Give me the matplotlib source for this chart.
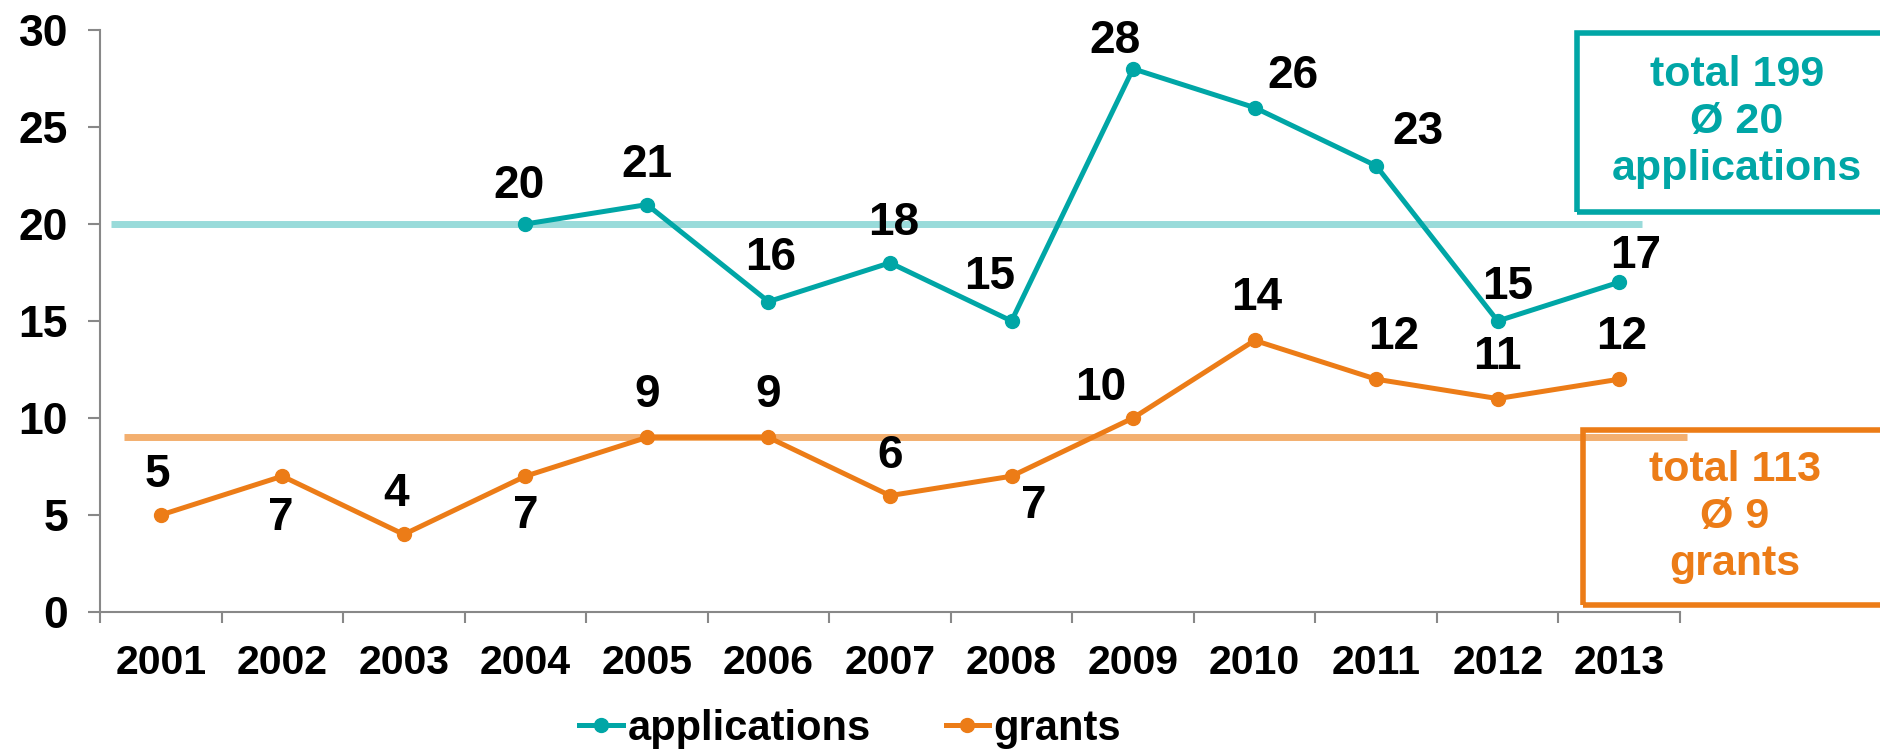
import matplotlib.pyplot as plt
from matplotlib.patches import Rectangle
import numpy as np

plt.rcParams['font.family'] = ['Liberation Sans', 'DejaVu Sans']
plt.rcParams['font.weight'] = 'bold'

years = ['2001', '2002', '2003', '2004', '2005', '2006', '2007',
         '2008', '2009', '2010', '2011', '2012', '2013']
applications = [np.nan, np.nan, np.nan, 20, 21, 16, 18, 15, 28, 26, 23, 15, 17]
grants = [5, 7, 4, 7, 9, 9, 6, 7, 10, 14, 12, 11, 12]
avg_applications = 20
avg_grants = 9
box_applications = 'total 199\nØ 20\napplications'
box_grants = 'total 113\nØ 9\ngrants'

teal = '#00A6A6'
teal_light = '#99DBDA'
orange = '#EC7C17'
orange_light = '#F3AF6F'
axis_grey = '#888888'

# label offsets in pixels (dx, dy) from each point
app_off = [None, None, None, (-6, 38), (0, 40), (2, 44), (4, 40), (-22, 44),
           (-18, 28), (38, 32), (42, 34), (10, 34), (16, 26)]
grant_off = [(-3, 40), (-2, -42), (-8, 40), (0, -40), (0, 42), (0, 42), (0, 40),
             (22, -30), (-32, 30), (2, 42), (18, 42), (0, 42), (2, 42)]

fig = plt.figure(figsize=(18.81, 7.53), dpi=100)
ax = fig.add_axes([100/1881, 1 - 612/753, 1580/1881, (612 - 30)/753])

x = np.arange(len(years))

# average lines
ax.plot([-0.41, 12.19], [avg_applications] * 2, color=teal_light, lw=5, zorder=1,
        solid_capstyle='butt')
ax.plot([-0.30, 12.56], [avg_grants] * 2, color=orange_light, lw=5, zorder=1,
        solid_capstyle='butt', clip_on=False)

ax.plot(x, applications, color=teal, lw=3.6, marker='o', ms=10, zorder=3,
        label='applications')
ax.plot(x, grants, color=orange, lw=3.6, marker='o', ms=10, zorder=3,
        label='grants')

for i in range(len(years)):
    if app_off[i] is not None:
        ax.annotate(str(int(applications[i])), (x[i], applications[i]),
                    xytext=app_off[i], textcoords='offset pixels',
                    ha='center', va='center', fontsize=33, fontweight='bold')
    ax.annotate(str(grants[i]), (x[i], grants[i]), xytext=grant_off[i],
                textcoords='offset pixels', ha='center', va='center',
                fontsize=33, fontweight='bold')

ax.set_xlim(-0.5, 12.5)
ax.set_ylim(0, 30)
ax.set_yticks([0, 5, 10, 15, 20, 25, 30])
ax.set_xticks(np.arange(-0.5, 13, 1))
ax.set_xticklabels([])
ax.set_xticks(x, minor=True)
ax.set_xticklabels(years, minor=True)
ax.tick_params(axis='x', which='major', length=8, width=1.5, color=axis_grey,
               direction='out')
ax.tick_params(axis='x', which='minor', length=0, pad=23, labelsize=29.5)
ax.tick_params(axis='y', length=9, width=1.5, color=axis_grey, pad=14,
               labelsize=32)
for lab in ax.get_xticklabels(minor=True) + ax.get_yticklabels():
    lab.set_fontweight('bold')

for s in ['top', 'right']:
    ax.spines[s].set_visible(False)
for s in ['left', 'bottom']:
    ax.spines[s].set_color(axis_grey)
    ax.spines[s].set_linewidth(1.5)
ax.spines['left'].set_bounds(0, 30)

# total / average boxes
fig.patches.append(Rectangle((1577/1881, 1 - 212/753), 0.2, (212 - 33)/753,
                             transform=fig.transFigure, fill=False,
                             edgecolor=teal, lw=4))
fig.text(1737/1881, 1 - 122/753, box_applications, color=teal, fontsize=31,
         fontweight='bold', ha='center', va='center', linespacing=1.22)
fig.patches.append(Rectangle((1583/1881, 1 - 605/753), 0.2, (605 - 430)/753,
                             transform=fig.transFigure, fill=False,
                             edgecolor=orange, lw=4))
fig.text(1735/1881, 1 - 517/753, box_grants, color=orange, fontsize=31,
         fontweight='bold', ha='center', va='center', linespacing=1.22)

fig.legend(loc='center', bbox_to_anchor=(0.452, 0.032), ncol=2, frameon=False,
           handlelength=1.05, handletextpad=0.1, columnspacing=1.8,
           borderpad=0, prop={'weight': 'bold', 'size': 30})

fig.savefig('out.png', dpi=100)
